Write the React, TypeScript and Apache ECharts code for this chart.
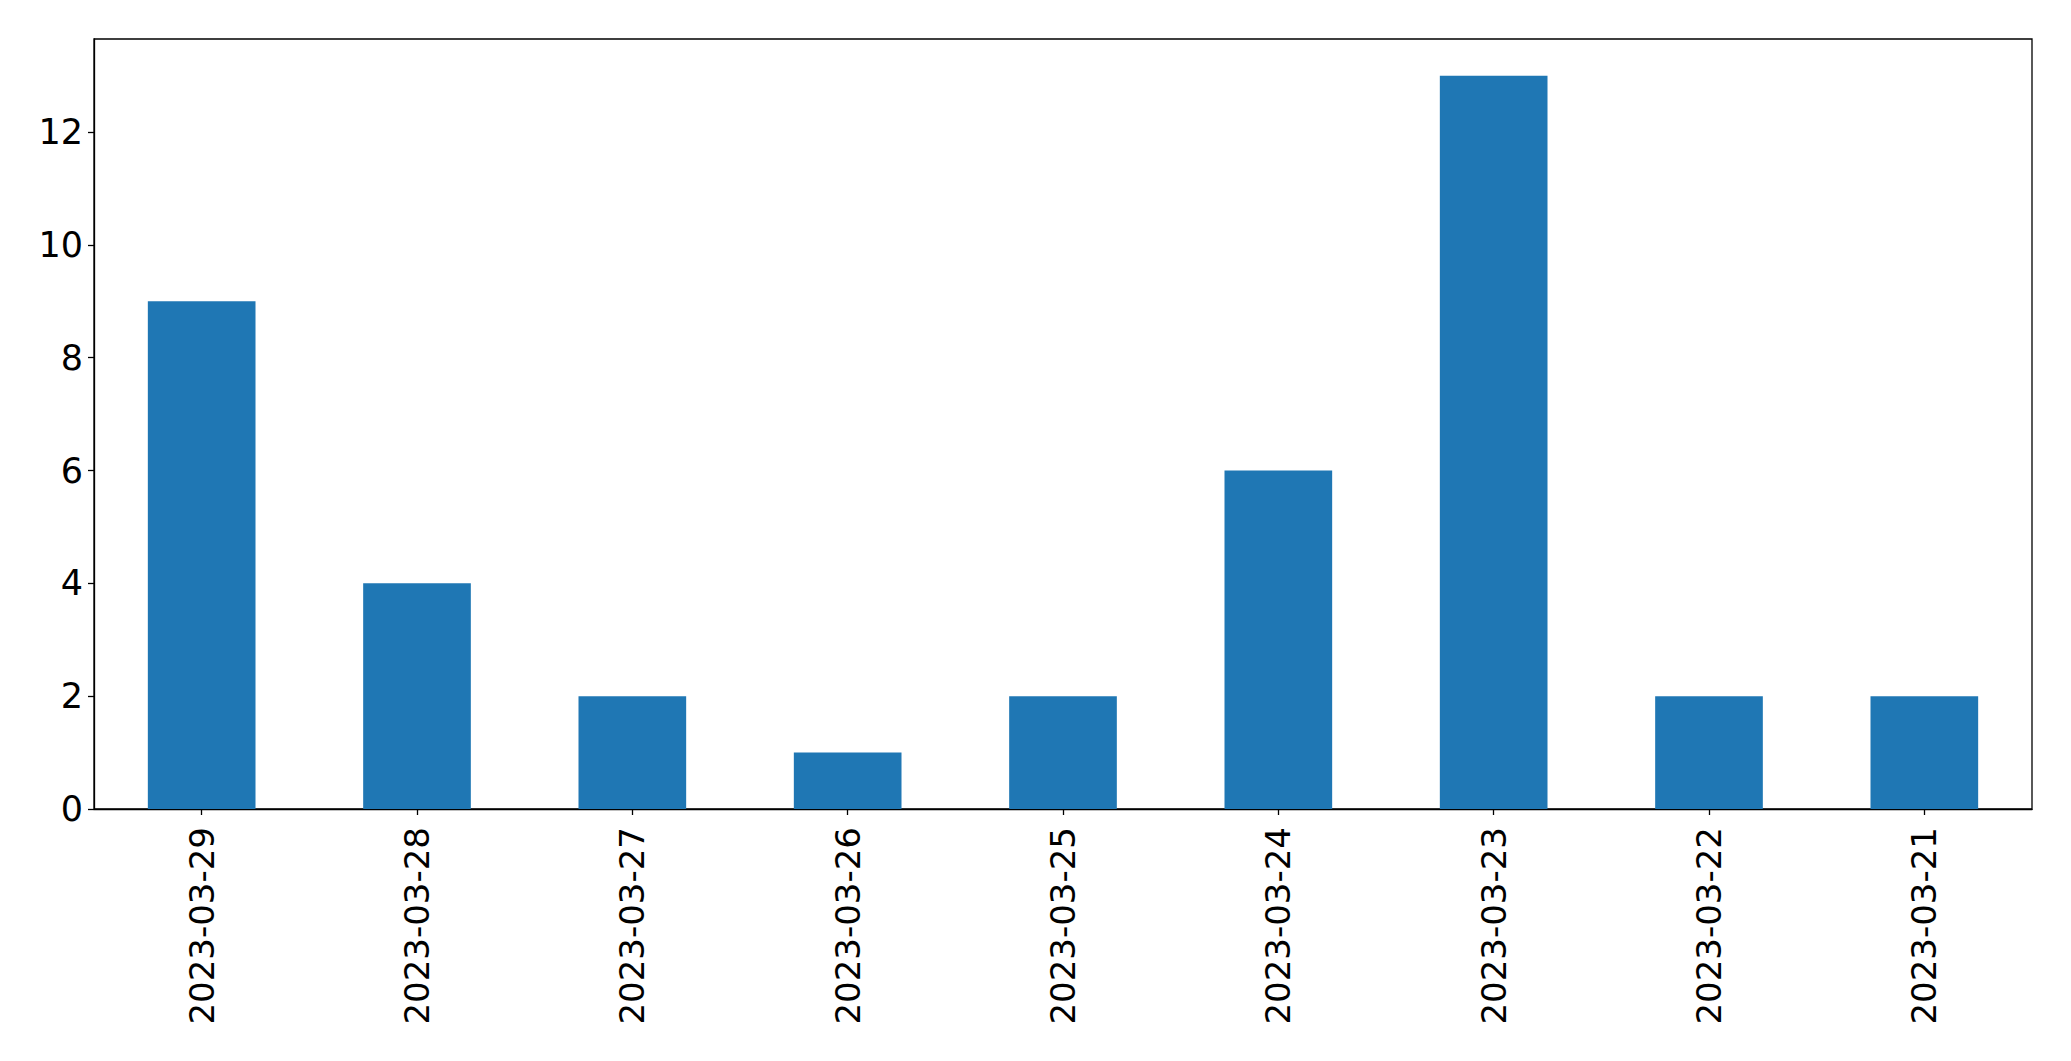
import React, { useEffect, useRef } from "react";
import * as echarts from "echarts";

const categories = [
  "2023-03-29",
  "2023-03-28",
  "2023-03-27",
  "2023-03-26",
  "2023-03-25",
  "2023-03-24",
  "2023-03-23",
  "2023-03-22",
  "2023-03-21",
];
const counts = [9, 4, 2, 1, 2, 6, 13, 2, 2];
const yTicks = [0, 2, 4, 6, 8, 10, 12];

export default function App() {
  const ref = useRef<HTMLDivElement>(null);
  useEffect(() => {
    if (!ref.current) return;
    const chart = echarts.init(ref.current, null, { renderer: "svg" });
    const font = "DejaVu Sans";
    chart.setOption({
      animation: false,
      backgroundColor: "#ffffff",
      grid: {
        left: 94,
        top: 39,
        right: 39,
        bottom: 252,
        containLabel: false,
        show: true,
        borderColor: "#000000",
        borderWidth: 1.3,
        backgroundColor: "transparent",
      },
      xAxis: {
        type: "category",
        data: categories,
        axisLine: { show: true, lineStyle: { color: "#000", width: 1.3 } },
        axisTick: { show: true, alignWithLabel: true, length: 6, lineStyle: { color: "#000", width: 1.3 } },
        axisLabel: {
          rotate: 90,
          margin: 18,
          fontSize: 34,
          fontFamily: font,
          color: "#000",
        },
        splitLine: { show: false },
      },
      yAxis: {
        type: "value",
        min: 0,
        max: 13.65,
        interval: 2,
        axisLine: { show: true, lineStyle: { color: "#000", width: 1.3 } },
        axisTick: { show: true, length: 6, customValues: yTicks, lineStyle: { color: "#000", width: 1.3 } },
        axisLabel: {
          customValues: yTicks,
          margin: 11,
          fontSize: 35,
          fontFamily: font,
          color: "#000",
        },
        splitLine: { show: false },
      },
      series: [
        {
          type: "bar",
          data: counts,
          barWidth: "50%",
          itemStyle: { color: "#1f77b4" },
        },
      ],
    });
    return () => chart.dispose();
  }, []);
  return (
    <div
      ref={ref}
      style={{ position: "fixed", left: 0, top: 0, width: 2071, height: 1061, background: "#fff" }}
    />
  );
}
